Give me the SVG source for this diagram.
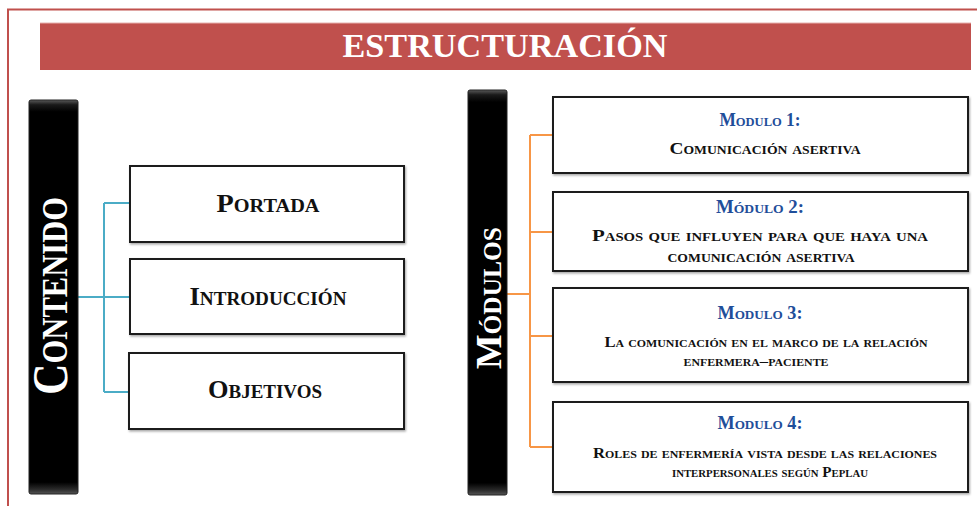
<svg xmlns="http://www.w3.org/2000/svg" width="977" height="506" viewBox="0 0 977 506">
<defs>
<linearGradient id="gloss" x1="0" y1="0" x2="0" y2="1">
<stop offset="0" stop-color="#5a5a5a"/>
<stop offset="0.012" stop-color="#1a1a1a"/>
<stop offset="0.03" stop-color="#000"/>
<stop offset="0.97" stop-color="#000"/>
<stop offset="0.988" stop-color="#2a2a2a"/>
<stop offset="1" stop-color="#555"/>
</linearGradient>
<filter id="sh" x="-5%" y="-5%" width="110%" height="120%">
<feDropShadow dx="1" dy="1.5" stdDeviation="0.8" flood-color="#000" flood-opacity="0.35"/>
</filter>
</defs>
<style>
.sc{font-family:"Liberation Serif","Times New Roman",serif;font-weight:bold;font-variant:small-caps;text-anchor:middle}
.box{fill:#fff;stroke:#1e1e1e;stroke-width:2;filter:url(#sh)}
.bar{fill:url(#gloss);stroke:#222;stroke-width:1}
.lbl{font-size:25px;fill:#111}
.mt{font-size:18px;fill:#1f4e9a}
.mb{font-size:17px;fill:#111}
.ms{font-size:14px;fill:#111}
.blue{stroke:#4bacc6;stroke-width:2;fill:none}
.orange{stroke:#f79646;stroke-width:2;fill:none}
</style>
<rect width="977" height="506" fill="#fff"/>
<path d="M8,520 V9.5 H990" fill="none" stroke="#c0504d" stroke-width="2"/>
<g id="title">
<rect x="40" y="23" width="931" height="47" fill="#c0504d"/>
<line x1="40" y1="23" x2="971" y2="23" stroke="#e6b0ae" stroke-width="1"/>
<text x="505" y="57" font-family="Liberation Serif, Times New Roman, serif" font-size="33" font-weight="bold" fill="#fff" text-anchor="middle" textLength="325" lengthAdjust="spacingAndGlyphs">ESTRUCTURACIÓN</text>
</g>
<g id="connectors">
<path class="blue" d="M78,297 H104 M104,203 V392 M104,203 H130 M104,297 H130 M104,392 H130"/>
<path class="orange" d="M507,294 H530 M530,135 V447 M530,135 H553 M530,232 H553 M530,336 H553 M530,447 H553"/>
</g>
<g id="contenido">
<rect class="bar" x="29" y="100" width="49" height="394" rx="2"/>
<text class="sc" transform="translate(67,296) rotate(-90)" font-size="50" fill="#fff" textLength="198" lengthAdjust="spacingAndGlyphs">Contenido</text>
</g>
<g id="portada">
<rect class="box" x="130" y="166" width="274" height="76"/>
<text class="sc lbl" x="268" y="212" textLength="103" lengthAdjust="spacingAndGlyphs">Portada</text>
</g>
<g id="introduccion">
<rect class="box" x="130" y="259" width="274" height="75"/>
<text class="sc lbl" x="268" y="305" textLength="157" lengthAdjust="spacingAndGlyphs">Introducción</text>
</g>
<g id="objetivos">
<rect class="box" x="129" y="353" width="275" height="76"/>
<text class="sc lbl" x="265" y="398" textLength="114" lengthAdjust="spacingAndGlyphs">Objetivos</text>
</g>
<g id="modulos">
<rect class="bar" x="468" y="90" width="39" height="405" rx="2"/>
<text class="sc" transform="translate(501,298) rotate(-90)" font-size="36" fill="#fff" textLength="142" lengthAdjust="spacingAndGlyphs">Módulos</text>
</g>
<g id="modulo1">
<rect class="box" x="553" y="97" width="415" height="76"/>
<text class="sc mt" x="760" y="126" textLength="81" lengthAdjust="spacingAndGlyphs">Modulo 1:</text>
<text class="sc mb" x="765" y="154" textLength="191" lengthAdjust="spacingAndGlyphs">Comunicación asertiva</text>
</g>
<g id="modulo2">
<rect class="box" x="553" y="192" width="415" height="79"/>
<text class="sc mt" x="760" y="213" textLength="88" lengthAdjust="spacingAndGlyphs">Módulo 2:</text>
<text class="sc mb" x="760" y="241" textLength="336" lengthAdjust="spacingAndGlyphs">Pasos que influyen para que haya una</text>
<text class="sc mb" x="761" y="262" textLength="187" lengthAdjust="spacingAndGlyphs">comunicación asertiva</text>
</g>
<g id="modulo3">
<rect class="box" x="553" y="288" width="415" height="94"/>
<text class="sc mt" x="760" y="319" textLength="85" lengthAdjust="spacingAndGlyphs">Modulo 3:</text>
<text class="sc ms" x="766" y="347" textLength="323" lengthAdjust="spacingAndGlyphs">La comunicación en el marco de la relación</text>
<text class="sc ms" x="756" y="366" textLength="145" lengthAdjust="spacingAndGlyphs">enfermera–paciente</text>
</g>
<g id="modulo4">
<rect class="box" x="553" y="402" width="415" height="90"/>
<text class="sc mt" x="760" y="429" textLength="85" lengthAdjust="spacingAndGlyphs">Modulo 4:</text>
<text class="sc ms" x="765" y="458" textLength="344" lengthAdjust="spacingAndGlyphs">Roles de enfermería vista desde las relaciones</text>
<text class="sc ms" x="770" y="477" textLength="196" lengthAdjust="spacingAndGlyphs">interpersonales según Peplau</text>
</g>
</svg>
